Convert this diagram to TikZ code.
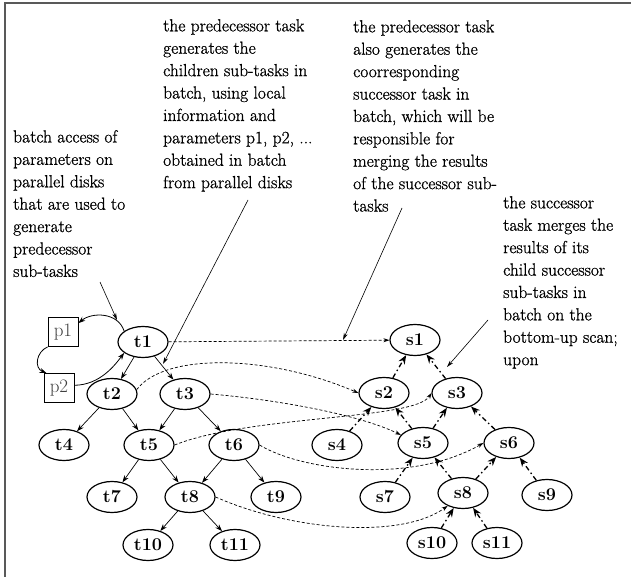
\documentclass[tikz,border=0pt]{standalone}
\usepackage{fontspec}
\newfontfamily\notefont{Latin Modern Roman}[FakeBold=0.9]
\usetikzlibrary{arrows.meta,shapes.geometric}
\begin{document}
\begin{tikzpicture}[x=1pt,y=-1pt,
  note/.style={anchor=north west, align=left, inner sep=0pt, font=\notefont\fontsize{17.5}{22.4}\selectfont},
  tnode/.style={ellipse, draw, line width=1.2pt, minimum width=50pt, minimum height=31pt, inner sep=0pt, font=\fontsize{18}{18}\selectfont\bfseries},
  pbox/.style={rectangle, draw, line width=0.8pt, minimum width=30pt, minimum height=29pt, inner sep=0pt, font=\fontsize{19}{19}\selectfont, text=black!75},
  tedge/.style={line width=0.7pt, -{Stealth[length=7pt,width=5pt]}},
  sedge/.style={line width=1.3pt, dash pattern=on 5pt off 3pt on 1.5pt off 3pt, -{Stealth[length=9pt,width=7pt]}},
  xedge/.style={line width=0.7pt, dash pattern=on 3pt off 2pt, -{Stealth[length=6pt,width=4pt]}},
  pedge/.style={line width=0.8pt, -{Stealth[length=7pt,width=5pt]}},
  callout/.style={line width=0.6pt, -{Stealth[length=7pt,width=4pt]}},
  frame/.style={draw=black!65, line width=1.6pt}
]
\useasboundingbox (0,0) rectangle (631,577);
\draw[frame] (5,577) -- (5,3) -- (631,3);

% notes
\node[note] (n1) at (13,130) {batch access of\\parameters on\\parallel disks\\that are used to\\generate\\predecessor\\sub-tasks};
\node[note] (n2) at (163,19) {the predecessor task\\generates the\\children sub-tasks in\\batch, using local\\information and\\parameters p1, p2, ...\\obtained in batch\\from parallel disks};
\node[note] (n3) at (353,20) {the predecessor task\\also generates the\\coorresponding\\successor task in\\batch, which will be\\responsible for\\merging the results\\of the successor sub-\\tasks};
\node[note] (n4) at (503,196) {the successor\\task merges the\\results of its\\child successor\\sub-tasks in\\batch on the\\bottom-up scan;\\upon};

% predecessor tree
\node[tnode] (t1) at (143,342) {t1};
\node[tnode] (t2) at (112,394) {t2};
\node[tnode] (t3) at (185,394) {t3};
\node[tnode] (t4) at (64,445) {t4};
\node[tnode] (t5) at (149,445) {t5};
\node[tnode] (t6) at (234,445) {t6};
\node[tnode] (t7) at (112,497) {t7};
\node[tnode] (t8) at (190,497) {t8};
\node[tnode] (t9) at (276,497) {t9};
\node[tnode] (t10) at (148,545) {t10};
\node[tnode] (t11) at (235,545) {t11};

% parameter boxes
\node[pbox] (p1) at (63,332) {p1};
\node[pbox] (p2) at (59,388) {p2};

% successor tree
\node[tnode] (s1) at (415,340) {s1};
\node[tnode] (s2) at (384,393) {s2};
\node[tnode] (s3) at (457,393) {s3};
\node[tnode] (s4) at (337,445) {s4};
\node[tnode] (s5) at (423,443) {s5};
\node[tnode] (s6) at (509,443) {s6};
\node[tnode] (s7) at (385,497) {s7};
\node[tnode] (s8) at (463,493) {s8};
\node[tnode] (s9) at (547,495) {s9};
\node[tnode] (s10) at (432,543) {s10};
\node[tnode] (s11) at (497,543) {s11};

% predecessor edges
\foreach \a/\b in {t1/t2,t1/t3,t2/t4,t2/t5,t3/t5,t3/t6,t5/t7,t5/t8,t6/t8,t6/t9,t8/t10,t8/t11}
  \draw[tedge] (\a) -- (\b);

% successor edges (child to parent)
\foreach \a/\b in {s2/s1,s3/s1,s4/s2,s5/s2,s5/s3,s6/s3,s7/s5,s8/s5,s8/s6,s9/s6,s10/s8,s11/s8}
  \draw[sedge] (\a) -- (\b);

% parameter curves
\draw[pedge] (t1.150) .. controls (118,312) and (92,312) .. (p1.30);
\draw[pedge] (p1.south west) .. controls (36,352) and (34,368) .. (p2.130);
\draw[pedge] (p2.10) .. controls (100,385) and (115,365) .. (t1.210);

% cross connectors
\draw[xedge] (t1) -- (s1);
\draw[xedge] (t2.10) .. controls (165,352) and (270,355) .. (s2.west);
\draw[xedge] (t3.east) .. controls (280,400) and (360,415) .. (s5.160);
\draw[xedge] (t5.east) .. controls (250,415) and (415,420) .. (s3.west);
\draw[xedge] (t6.east) .. controls (300,470) and (410,485) .. (s6.west);
\draw[xedge] (t8.east) .. controls (290,530) and (400,540) .. (s8.220);

% callouts
\coordinate (a1) at (100,282); \coordinate (b1) at (117,320);
\coordinate (a2) at (248,200); \coordinate (b2) at (163,364);
\coordinate (a3) at (402,208); \coordinate (b3) at (343,340);
\coordinate (a4) at (488,320); \coordinate (b4) at (447,367);
\draw[callout] (a1) -- (b1);
\draw[callout] (a2) -- (b2);
\draw[callout] (a3) -- (b3);
\draw[callout] (a4) -- (b4);
\end{tikzpicture}
\end{document}
